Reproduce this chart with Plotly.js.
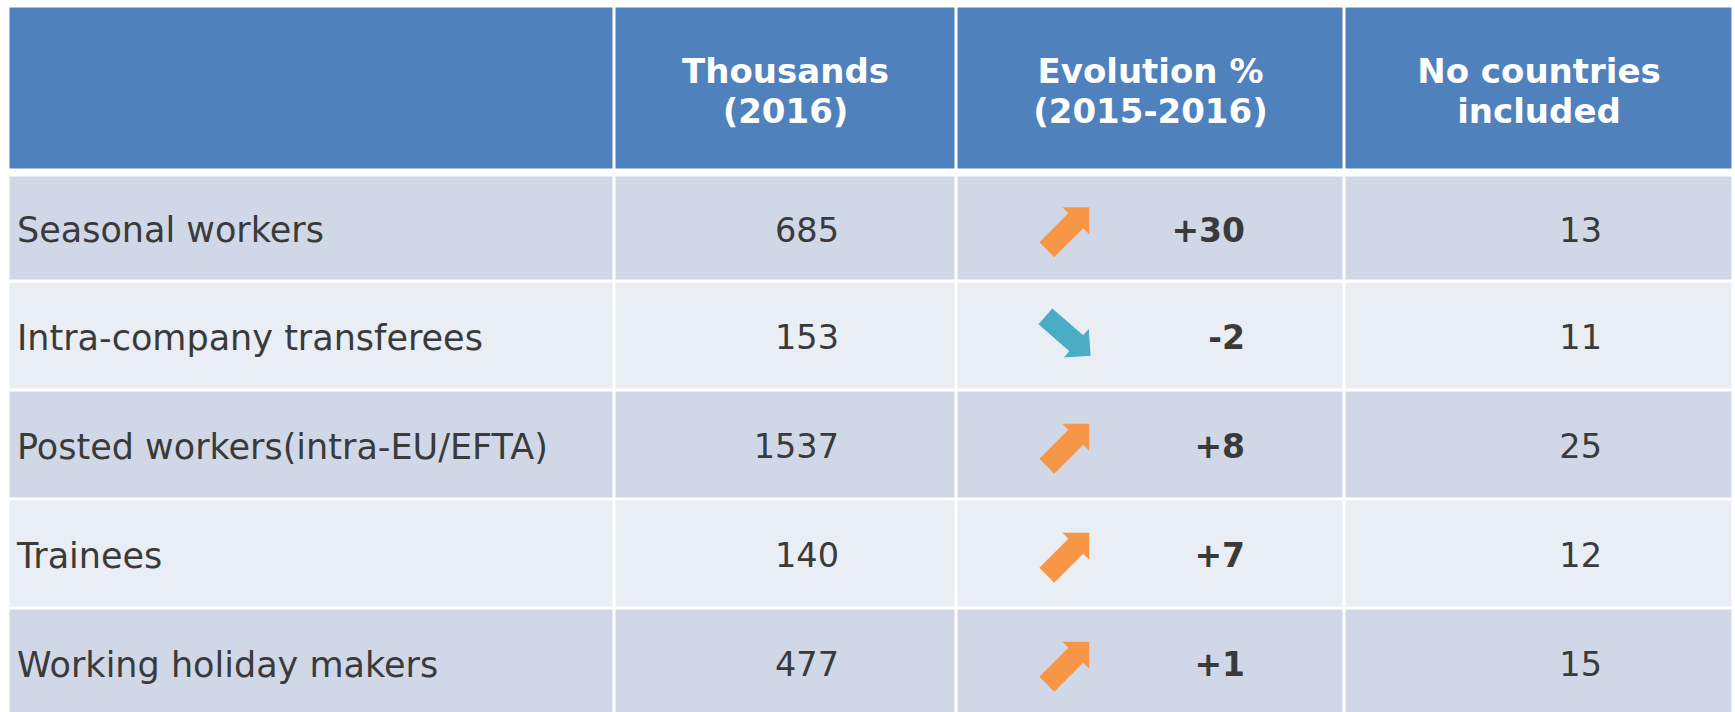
<!DOCTYPE html>
<html>
<head>
<meta charset="utf-8">
<script src="https://cdn.plot.ly/plotly-3.0.1.min.js"></script>
<style>html,body{margin:0;padding:0;background:#ffffff;overflow:hidden}</style>
</head>
<body>
<div id="chart" style="width:1735px;height:712px"></div>
<script>
// ---------- data ----------
const headerLine1 = ["", "Thousands", "Evolution %", "No countries"];
const headerLine2 = ["", "(2016)", "(2015-2016)", "included"];
const categories = ["Seasonal workers", "Intra-company transferees", "Posted workers(intra-EU/EFTA)", "Trainees", "Working holiday makers"];
const thousands2016 = [685, 153, 1537, 140, 477];
const evolutionPct = [30, -2, 8, 7, 1];
const countriesIncluded = [13, 11, 25, 12, 15];

// ---------- layout geometry (pixel units on hidden axes) ----------
const W = 1735, H = 712;
const GAP = 3;
const colEdges = [8.5, 614.5, 956.5, 1344.5, 1733.5];
const headerTop = 6.5, headerBottom = 170.5, bodyTop = 175.5, firstRowBottom = 281.5, rowPitch = 109;
const headerLineY = [74, 114];
const labelX = 17, thousandsX = 839, evolutionX = 1245, countriesX = 1602, arrowCX = 1068;
const rowTextShift = 5;

const colors = {header: "#4F81BD", odd: "#D0D8E8", even: "#E9EDF4", text: "#3a3a3a",
                up: "#F79646", down: "#4BACC6"};
const arrowShape = {length: 60, shaft: 21, headWidth: 38, headLength: 19};
const arrowAngleDeg = {up: -45, down: 41};

// ---------- derived ----------
const bodyEdges = [bodyTop].concat(categories.map((_, i) => firstRowBottom + i * rowPitch));
const yEdges = [headerTop, headerBottom].concat(bodyEdges);
const nCols = colEdges.length - 1;
const zCells = [new Array(nCols).fill(0), new Array(nCols).fill(null)]
  .concat(categories.map((_, i) => new Array(nCols).fill(i % 2 === 0 ? 1 : 2)));
const rowCenters = categories.map((_, i) => (bodyEdges[i] + bodyEdges[i + 1]) / 2);
const colCenters = colEdges.slice(0, -1).map((e, j) => (e + colEdges[j + 1]) / 2);
const textY = rowCenters.map(v => v + rowTextShift);

const bodyFont = {family: "DejaVu Sans, Verdana, sans-serif", size: 33.5, color: colors.text};
const labelFont = {family: "DejaVu Sans, Verdana, sans-serif", size: 35, color: colors.text};
const headFont = {family: "DejaVu Sans, Verdana, sans-serif", size: 34, color: "#ffffff", weight: "bold"};

function arrowPolygons(dir) {
  const xs = [], ys = [];
  const a = arrowAngleDeg[dir] * Math.PI / 180;
  const ux = Math.cos(a), uy = Math.sin(a);
  const L = arrowShape.length / 2, sh = arrowShape.shaft / 2, hw = arrowShape.headWidth / 2, hb = L - arrowShape.headLength;
  const local = [[-L, -sh], [hb, -sh], [hb, -hw], [L, 0], [hb, hw], [hb, sh], [-L, sh]];
  evolutionPct.forEach((v, i) => {
    if ((v >= 0 ? "up" : "down") !== dir) return;
    local.forEach(([s, t]) => {
      xs.push(arrowCX + s * ux - t * uy);
      ys.push(rowCenters[i] + s * uy + t * ux);
    });
    xs.push(null); ys.push(null);
  });
  return {xs, ys};
}
const upArrows = arrowPolygons("up"), downArrows = arrowPolygons("down");

const traces = [
  {
    type: "heatmap",
    x: colEdges, y: yEdges, z: zCells,
    zmin: 0, zmax: 2,
    colorscale: [[0, colors.header], [0.5, colors.odd], [1, colors.even]],
    showscale: false, xgap: GAP, ygap: GAP, hoverinfo: "skip"
  },
  {
    type: "scatter", mode: "text",
    x: colCenters, y: headerLine1.map(() => headerLineY[0]),
    text: headerLine1, textposition: "middle center", textfont: headFont, hoverinfo: "skip"
  },
  {
    type: "scatter", mode: "text",
    x: colCenters, y: headerLine2.map(() => headerLineY[1]),
    text: headerLine2, textposition: "middle center", textfont: headFont, hoverinfo: "skip"
  },
  {
    type: "scatter", mode: "text",
    x: categories.map(() => labelX), y: textY,
    text: categories, textposition: "middle right", textfont: labelFont, hoverinfo: "skip"
  },
  {
    type: "scatter", mode: "text",
    x: thousands2016.map(() => thousandsX), y: textY,
    text: thousands2016.map(String), textposition: "middle left", textfont: bodyFont, hoverinfo: "skip"
  },
  {
    type: "scatter", mode: "lines",
    x: upArrows.xs, y: upArrows.ys, fill: "toself", fillcolor: colors.up,
    line: {width: 0, color: colors.up}, connectgaps: false, hoverinfo: "skip"
  },
  {
    type: "scatter", mode: "lines",
    x: downArrows.xs, y: downArrows.ys, fill: "toself", fillcolor: colors.down,
    line: {width: 0, color: colors.down}, connectgaps: false, hoverinfo: "skip"
  },
  {
    type: "scatter", mode: "text",
    x: evolutionPct.map(() => evolutionX), y: textY,
    text: evolutionPct.map(v => (v > 0 ? "+" : "") + v), textposition: "middle left",
    textfont: Object.assign({}, bodyFont, {size: 33, weight: "bold"}), hoverinfo: "skip"
  },
  {
    type: "scatter", mode: "text",
    x: countriesIncluded.map(() => countriesX), y: textY,
    text: countriesIncluded.map(String), textposition: "middle left", textfont: bodyFont, hoverinfo: "skip"
  }
];

const layout = {
  width: W, height: H,
  margin: {l: 0, r: 0, t: 0, b: 0, pad: 0},
  paper_bgcolor: "#ffffff", plot_bgcolor: "#ffffff",
  showlegend: false,
  xaxis: {range: [0, W], visible: false, fixedrange: true},
  yaxis: {range: [H, 0], visible: false, fixedrange: true}
};

Plotly.newPlot("chart", traces, layout, {displayModeBar: false, staticPlot: true});
</script>
</body>
</html>
